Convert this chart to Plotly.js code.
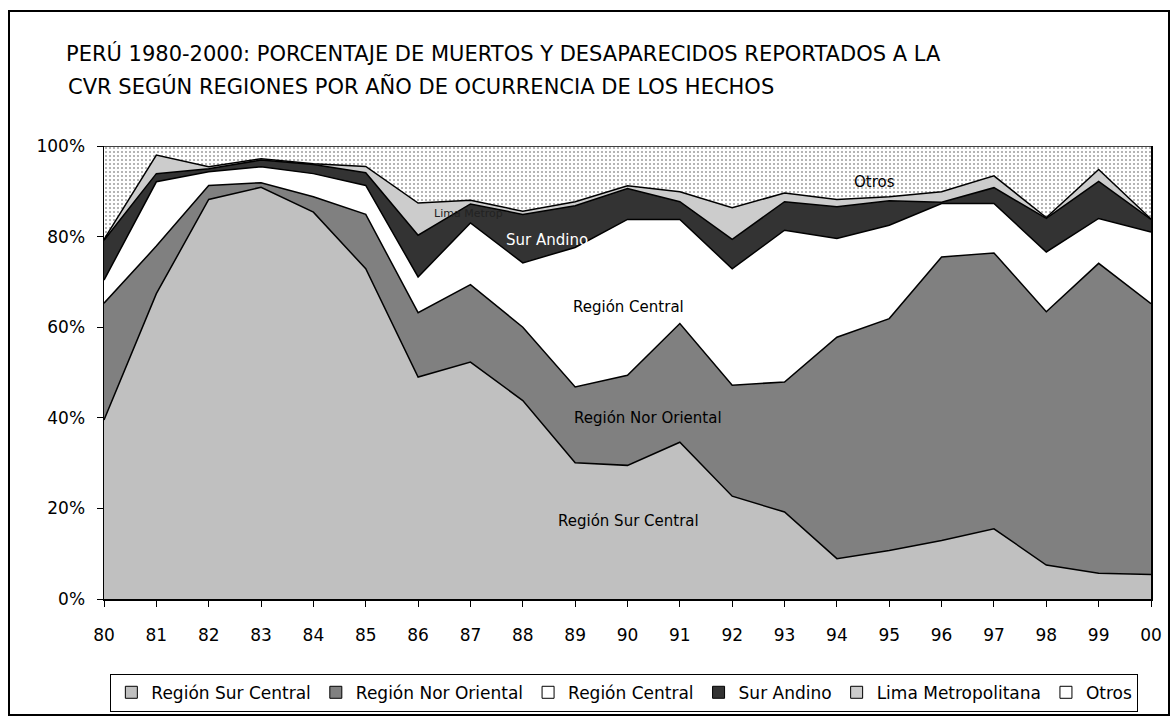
<!DOCTYPE html>
<html>
<head>
<meta charset="utf-8">
<script src="https://cdn.plot.ly/plotly-3.0.1.min.js"></script>
<style>html,body{margin:0;padding:0;background:#fff;}#chart{width:1172px;height:716px;}</style>
</head>
<body>
<div id="chart"></div>
<script>
const years = ['80','81','82','83','84','85','86','87','88','89','90','91','92','93','94','95','96','97','98','99','00'];
const surCentral   = [39.5,67.4,88.2,90.9,85.4,72.9,49.0,52.3,43.8,30.1,29.5,34.6,22.7,19.2,8.9,10.7,12.9,15.5,7.5,5.7,5.4];
const norOriental  = [25.8,10.5,3.1,1.0,3.4,12.0,14.2,17.1,16.2,16.7,19.9,26.2,24.5,28.7,48.9,51.2,62.6,60.9,55.9,68.4,59.8];
const central      = [5.1,14.2,3.0,3.5,5.1,6.4,7.9,13.6,14.2,30.8,34.4,23.0,25.7,33.5,21.8,20.6,11.8,10.9,13.2,9.9,15.8];
const surAndino    = [8.8,1.8,0.7,1.5,2.0,2.8,9.2,4.2,10.7,9.2,6.8,3.9,6.5,6.3,7.0,5.4,0.3,3.5,7.4,8.2,2.8];
const limaMetro    = [0.2,4.1,0.4,0.3,0.2,1.4,7.1,0.8,0.7,0.9,0.6,2.2,7.0,1.9,1.6,0.9,2.3,2.6,0.2,2.6,0.1];
const otros        = [20.6,2.0,4.6,2.8,3.9,4.5,12.6,12.0,14.4,12.3,8.8,10.1,13.6,10.4,11.8,11.2,10.1,6.6,15.8,5.2,16.1];
const seriesNames  = ['Región Sur Central','Región Nor Oriental','Región Central','Sur Andino','Lima Metropolitana','Otros'];

const FONT = 'DejaVu Sans, Verdana, sans-serif';
const fills = ['#C0C0C0','#808080','#FFFFFF','#333333','#CCCCCC','#FFFFFF'];
const data = [surCentral, norOriental, central, surAndino, limaMetro, otros];

const traces = data.map((vals, i) => {
  const t = {
    type: 'scatter', mode: 'lines', x: years, y: vals, name: seriesNames[i],
    stackgroup: 'one', fillcolor: fills[i], showlegend: false,
    line: {color: '#000000', width: 1.5},
    hoverinfo: 'x+y+name'
  };
  if (i === 5) {
    t.fillpattern = {shape: '.', fgcolor: '#9c9c9c', bgcolor: '#ffffff', size: 4, solidity: 0.2};
  }
  return t;
});

// legend-only entries (square swatches like the original)
const legendTraces = seriesNames.map((nm, i) => ({
  type: 'scatter', mode: 'markers', x: [null], y: [null], name: nm,
  marker: {symbol: 'square', size: 12, color: fills[i], line: {color: '#000000', width: 1}},
  showlegend: true, hoverinfo: 'skip'
}));

const layout = {
  width: 1172, height: 716,
  margin: {l: 104, r: 21, t: 146, b: 117, autoexpand: false},
  paper_bgcolor: '#ffffff', plot_bgcolor: '#ffffff',
  font: {family: FONT, size: 15, color: '#000000'},
  title: {
    text: 'PERÚ 1980-2000: PORCENTAJE DE MUERTOS Y DESAPARECIDOS REPORTADOS A LA',
    x: 66/1172, xanchor: 'left', xref: 'container',
    y: 1 - 54/716, yanchor: 'middle', yref: 'container',
    font: {family: FONT, size: 21, color: '#000000'}
  },
  showlegend: true,
  legend: {
    orientation: 'h', x: 0.497, xanchor: 'center', y: -0.165, yanchor: 'top',
    bordercolor: '#000000', borderwidth: 1, bgcolor: '#ffffff',
    font: {family: FONT, size: 17, color: '#000000'},
    traceorder: 'normal', itemwidth: 30, tracegroupgap: 0
  },
  xaxis: {
    type: 'category', range: [0, 20], showgrid: false, zeroline: false,
    showline: true, linecolor: '#000000', linewidth: 2, automargin: false,
    ticks: 'outside', ticklen: 6, tickcolor: '#000000', tickwidth: 1,
    ticklabelstandoff: 14, tickfont: {family: FONT, size: 17, color: '#000000'},
    fixedrange: true
  },
  yaxis: {
    range: [0, 100], dtick: 20, ticksuffix: '%', showgrid: false, zeroline: false,
    showline: true, linecolor: '#000000', linewidth: 1.5, mirror: true, automargin: false,
    ticks: 'outside', ticklen: 6, tickcolor: '#000000', tickwidth: 1,
    ticklabelstandoff: 8, tickfont: {family: FONT, size: 17, color: '#000000'},
    fixedrange: true
  },
  annotations: [
    {text: 'CVR SEGÚN REGIONES POR AÑO DE OCURRENCIA DE LOS HECHOS', xref: 'paper', yref: 'paper',
     x: (66-104)/1047, xanchor: 'left', y: (599-86)/453, yanchor: 'middle', showarrow: false,
     font: {family: FONT, size: 21, color: '#000000'}},
    {text: 'Otros', xref: 'paper', yref: 'paper', x: (897-104)/1047, y: (599-171)/453,
     showarrow: false, font: {family: FONT, size: 15, color: '#000000'}},
    {text: 'Lima Metrop', xref: 'paper', yref: 'paper', x: (432-104)/1047, y: (599-205)/453,
     showarrow: false, font: {family: FONT, size: 11, color: '#222222'}},
    {text: 'Sur Andino', xref: 'paper', yref: 'paper', x: (547-104)/1047, y: (599-229)/453,
     showarrow: false, font: {family: FONT, size: 15, color: '#ffffff'}},
    {text: 'Región Central', xref: 'paper', yref: 'paper', x: (628-104)/1047, y: (599-296)/453,
     showarrow: false, font: {family: FONT, size: 15, color: '#000000'}},
    {text: 'Región Nor Oriental', xref: 'paper', yref: 'paper', x: (648-104)/1047, y: (599-418)/453,
     showarrow: false, font: {family: FONT, size: 15, color: '#000000'}},
    {text: 'Región Sur Central', xref: 'paper', yref: 'paper', x: (628-104)/1047, y: (599-532)/453,
     showarrow: false, font: {family: FONT, size: 15, color: '#000000'}}
  ],
  shapes: [
    {type: 'rect', xref: 'paper', yref: 'paper',
     x0: (9-104)/1047, x1: (1169-104)/1047, y0: (599-715)/453, y1: (599-11)/453,
     line: {color: '#000000', width: 2}, fillcolor: 'rgba(0,0,0,0)', layer: 'below'}
  ]
};

Plotly.newPlot('chart', traces.concat(legendTraces), layout, {displayModeBar: false, staticPlot: true});
</script>
</body>
</html>
